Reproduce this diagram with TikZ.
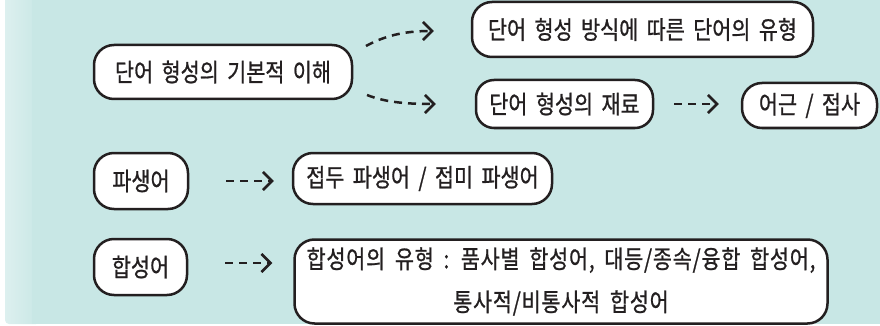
\documentclass[tikz,border=0pt]{standalone}
\usepackage{fontspec}
\setmainfont{Noto Sans CJK KR}[FakeStretch=0.83,WordSpace=1.8,FakeBold=0.8]
\usetikzlibrary{arrows.meta}
\definecolor{bgteal}{HTML}{C8E7E5}
\definecolor{bgleft}{HTML}{DDF0EF}
\definecolor{ink}{HTML}{231F20}
\tikzset{
  box/.style={draw=ink, fill=white, line width=2.5pt, rounded corners=20pt,
    inner sep=0pt, font=\fontsize{25}{38}\selectfont, text=ink, align=center},
  dasharrow/.style={draw=ink, line width=2.5pt, dash pattern=on 8pt off 6pt,
    -{Straight Barb[length=9pt,width=18pt]}},
}
\begin{document}
\begin{tikzpicture}[x=1pt,y=-1pt]
\useasboundingbox (0,0) rectangle (880,326);
\begin{scope}
  \clip (0,0) rectangle (880,326);
  \shade[left color=bgleft, right color=bgteal, rounded corners=4pt] (5,-10) rectangle (40,324);
  \fill[bgteal] (32,-10) rectangle (890,324);
\end{scope}

\node[box, minimum width=258pt, minimum height=54pt] (A) at (223,72) {단어 형성의 기본적 이해};
\node[box, minimum width=341pt, minimum height=55pt] (B) at (642.5,29.5) {단어 형성 방식에 따른 단어의 유형};
\node[box, minimum width=177pt, minimum height=48pt, rounded corners=18pt] (C) at (564.5,104) {단어 형성의 재료};
\node[box, minimum width=135pt, minimum height=45pt] (D) at (809.5,105.5) {어근 / 접사};
\node[box, minimum width=94pt, minimum height=56pt] (E) at (141,181) {파생어};
\node[box, minimum width=259pt, minimum height=51pt] (F) at (422.5,178.5) {접두 파생어 / 접미 파생어};
\node[box, minimum width=93pt, minimum height=56pt] (G) at (140.5,267) {합성어};
\node[box, minimum width=533pt, minimum height=84pt,
  font=\fontsize{25}{43}\selectfont\addfontfeatures{LetterSpace=3}] (H) at (561,281.5)
  {합성어의 유형 : 품사별 합성어, 대등/종속/융합 합성어,\\통사적/비통사적 합성어};

\coordinate (a1) at (366,46);
\coordinate (a2) at (367,95);
\draw[dasharrow] (a1) .. controls +(22,-12) and +(-25,0) .. ([xshift=-37pt,yshift=-1.5pt]B.west);
\draw[dasharrow] (a2) .. controls +(20,8) and +(-25,0) .. ([xshift=-39pt]C.west);
\draw[dasharrow, shorten <=20pt, shorten >=22pt] (C.east) -- (C.east -| D.west);
\draw[dasharrow, shorten <=37pt, shorten >=18pt] (E.east) -- (E.east -| F.west);
\draw[dasharrow, shorten <=37pt, shorten >=21pt] ([yshift=4pt]G.east) -- ([yshift=4pt]G.east -| H.west);
\end{tikzpicture}
\end{document}
